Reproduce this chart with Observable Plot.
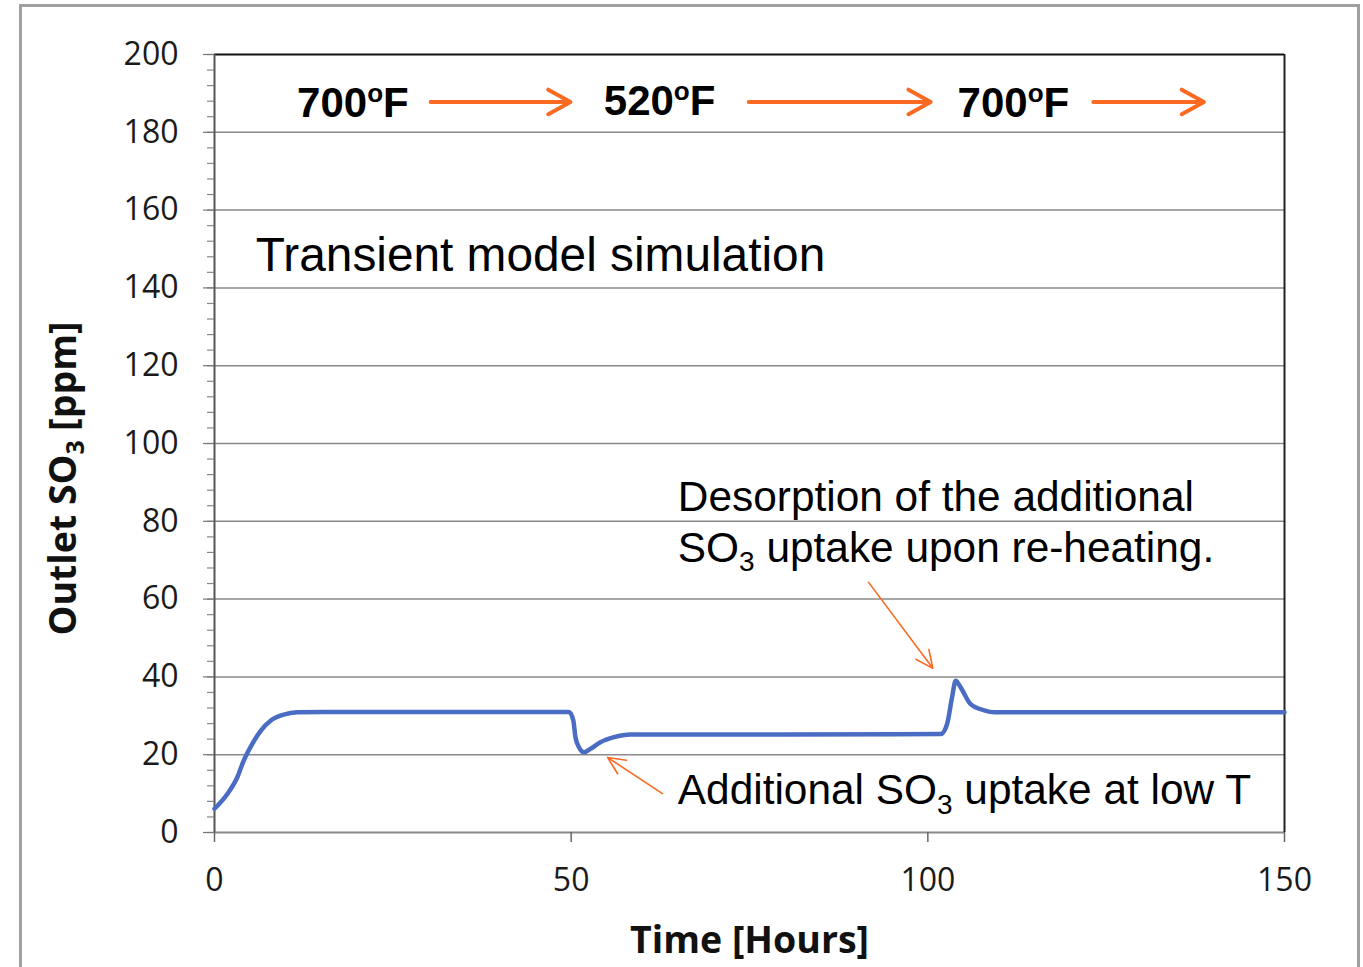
<!DOCTYPE html>
<html>
<head>
<meta charset="utf-8">
<script src="https://cdn.jsdelivr.net/npm/d3@7"></script>
<script src="https://cdn.jsdelivr.net/npm/@observablehq/plot@0.6"></script>
<style>
  html, body { margin: 0; padding: 0; background: #fff; overflow: hidden; }
  #wrap { position: relative; width: 1363px; height: 967px; }
  #border { position: absolute; left: 19px; top: 4px; width: 1335px; height: 1000px;
            border: 3px solid #a0a0a0; border-bottom: none; pointer-events: none; }
</style>
</head>
<body>
<div id="wrap"><div id="chart"></div><div id="border"></div></div>
<script>
// ---- data ----
const timeHours = [0, 1.8, 3.2, 4.1, 5.3, 6.5, 7.9, 9.7, 11.6, 15.3, 30, 49.7, 50.3, 50.6, 51.1, 51.8, 52.7, 54.1, 56.0, 58.3, 80, 101.8, 102.7, 103.4, 103.9, 104.6, 106.0, 107.9, 109.3, 130, 150];
const outletSO3 = [6.1, 9.9, 14.2, 18.5, 22.8, 26.2, 28.8, 30.3, 30.9, 31.0, 31.0, 31.0, 28.8, 24.5, 21.9, 20.6, 21.5, 23.2, 24.5, 25.2, 25.2, 25.3, 27.9, 34.8, 39.0, 37.3, 33.0, 31.4, 30.9, 30.9, 30.9];
const yTicks = [0, 20, 40, 60, 80, 100, 120, 140, 160, 180, 200];
const yMinorTicks = d3.range(0, 201, 4);
const xTicks = [0, 50, 100, 150];
const stageLabels = ["700^oF", "520^oF", "700^oF"];
const yLabel = "Outlet SO_3 [ppm]";
const xLabel = "Time [Hours]";
const titleText = "Transient model simulation";
const noteDesorb = ["Desorption of the additional", "SO_3 uptake upon re-heating."];
const noteUptake = "Additional SO_3 uptake at low T";

const series = timeHours.map((t, i) => ({t, v: outletSO3[i]}));
const ORANGE = "#fb6a22";
const ARIAL = "Liberation Sans, Arial, sans-serif";

const svg = Plot.plot({
  width: 1363, height: 967,
  marginLeft: 214, marginRight: 79, marginTop: 54, marginBottom: 135,
  x: {domain: [0, 150], axis: null},
  y: {domain: [0, 200], axis: null},
  style: {fontFamily: "Open Sans, sans-serif", background: "transparent", color: "#1a1a1a"},
  marks: [
    Plot.gridY(yTicks.filter(d => d > 0 && d < 200), {stroke: "#8a8a8a", strokeOpacity: 1, strokeWidth: 1.5}),
    Plot.ruleY([0], {stroke: "#8a8a8a", strokeWidth: 2}),
    Plot.ruleY([200], {stroke: "#111", strokeWidth: 2}),
    Plot.ruleX([150], {stroke: "#222", strokeWidth: 2}),
    Plot.ruleX([0], {stroke: "#555", strokeWidth: 2}),
    Plot.axisY(yMinorTicks, {tickSize: 7, tickFormat: () => "", label: null, stroke: "#888", strokeWidth: 1.2}),
    Plot.axisY(yTicks, {tickSize: 11, tickPadding: 25, fontSize: 32, label: null, stroke: "#777", strokeWidth: 1.2, fill: "#1a1a1a"}),
    Plot.axisX(xTicks, {tickSize: 10, tickPadding: 26, fontSize: 32, label: null, stroke: "#666", strokeWidth: 1.5, fill: "#1a1a1a"}),
    Plot.line(series, {x: "t", y: "v", stroke: "#4a6cc2", strokeWidth: 4.5, curve: "monotone-x"}),
    // stage temperatures
    Plot.text([stageLabels[0]], {x: 19.4, y: 187.4, text: d => d, fontFamily: ARIAL, fontWeight: "bold", fontSize: 42, textAnchor: "middle", lineAnchor: "middle", fill: "#000"}),
    Plot.text([stageLabels[1]], {x: 62.4, y: 188.0, text: d => d, fontFamily: ARIAL, fontWeight: "bold", fontSize: 42, textAnchor: "middle", lineAnchor: "middle", fill: "#000"}),
    Plot.text([stageLabels[2]], {x: 112.0, y: 187.4, text: d => d, fontFamily: ARIAL, fontWeight: "bold", fontSize: 42, textAnchor: "middle", lineAnchor: "middle", fill: "#000"}),
    Plot.arrow([{x1: 30.3, x2: 49.9, y: 187.8}], {x1: "x1", x2: "x2", y1: "y", y2: "y", stroke: ORANGE, strokeWidth: 4, headLength: 9.5, headAngle: 58}),
    Plot.arrow([{x1: 74.9, x2: 100.4, y: 187.8}], {x1: "x1", x2: "x2", y1: "y", y2: "y", stroke: ORANGE, strokeWidth: 4, headLength: 9.5, headAngle: 58}),
    Plot.arrow([{x1: 123.2, x2: 138.7, y: 187.8}], {x1: "x1", x2: "x2", y1: "y", y2: "y", stroke: ORANGE, strokeWidth: 4, headLength: 9.5, headAngle: 58}),
    // title inside plot
    Plot.text([titleText], {x: 5.8, y: 148.3, text: d => d, fontFamily: ARIAL, fontSize: 47.8, textAnchor: "start", lineAnchor: "middle", fill: "#000"}),
    // notes
    Plot.text([noteDesorb[0]], {x: 64.95, y: 86.1, text: d => d, fontFamily: ARIAL, fontSize: 42.4, textAnchor: "start", lineAnchor: "middle", fill: "#000"}),
    Plot.text([noteDesorb[1]], {x: 64.95, y: 73.0, text: d => d, fontFamily: ARIAL, fontSize: 42.4, textAnchor: "start", lineAnchor: "middle", fill: "#000"}),
    Plot.text([noteUptake], {x: 64.95, y: 10.7, text: d => d, fontFamily: ARIAL, fontSize: 42.4, textAnchor: "start", lineAnchor: "middle", fill: "#000"}),
    Plot.arrow([{x1: 91.7, y1: 64.3, x2: 100.7, y2: 42.2}], {x1: "x1", y1: "y1", x2: "x2", y2: "y2", stroke: ORANGE, strokeWidth: 1.6, headLength: 18, headAngle: 50}),
    Plot.arrow([{x1: 62.8, y1: 10.0, x2: 55.1, y2: 19.3}], {x1: "x1", y1: "y1", x2: "x2", y2: "y2", stroke: ORANGE, strokeWidth: 1.6, headLength: 18, headAngle: 50}),
    // axis labels
    Plot.text([yLabel], {frameAnchor: "left", dx: -151, dy: 35, rotate: -90, text: d => d, fontSize: 37.5, fontWeight: "bold", textAnchor: "middle", lineAnchor: "middle", fill: "#111"}),
    Plot.text([xLabel], {frameAnchor: "bottom", dy: 108, text: d => d, fontSize: 37.5, fontWeight: "bold", textAnchor: "middle", lineAnchor: "middle", fill: "#111"})
  ]
});
document.getElementById("chart").append(svg);

// rich text: "_3" -> subscript 3, "^o" -> superscript o
const NS = "http://www.w3.org/2000/svg";
svg.querySelectorAll("text, tspan").forEach(el => {
  if (el.children.length) return;
  const s = el.textContent;
  if (!/_3|\^o/.test(s)) return;
  const fs = parseFloat(getComputedStyle(el).fontSize);
  const parts = s.split(/(_3|\^o)/).filter(p => p !== "");
  el.textContent = "";
  let cur = 0;
  parts.forEach(p => {
    const ts = document.createElementNS(NS, "tspan");
    let target = 0;
    if (p === "_3") { target = 0.22 * fs; ts.textContent = "3"; ts.setAttribute("font-size", (0.66 * fs) + "px"); }
    else if (p === "^o") { target = -0.36 * fs; ts.textContent = "o"; ts.setAttribute("font-size", (0.62 * fs) + "px"); }
    else { ts.textContent = p; }
    if (target !== cur) ts.setAttribute("dy", (target - cur) + "px");
    cur = target;
    el.appendChild(ts);
  });
});
</script>
</body>
</html>
